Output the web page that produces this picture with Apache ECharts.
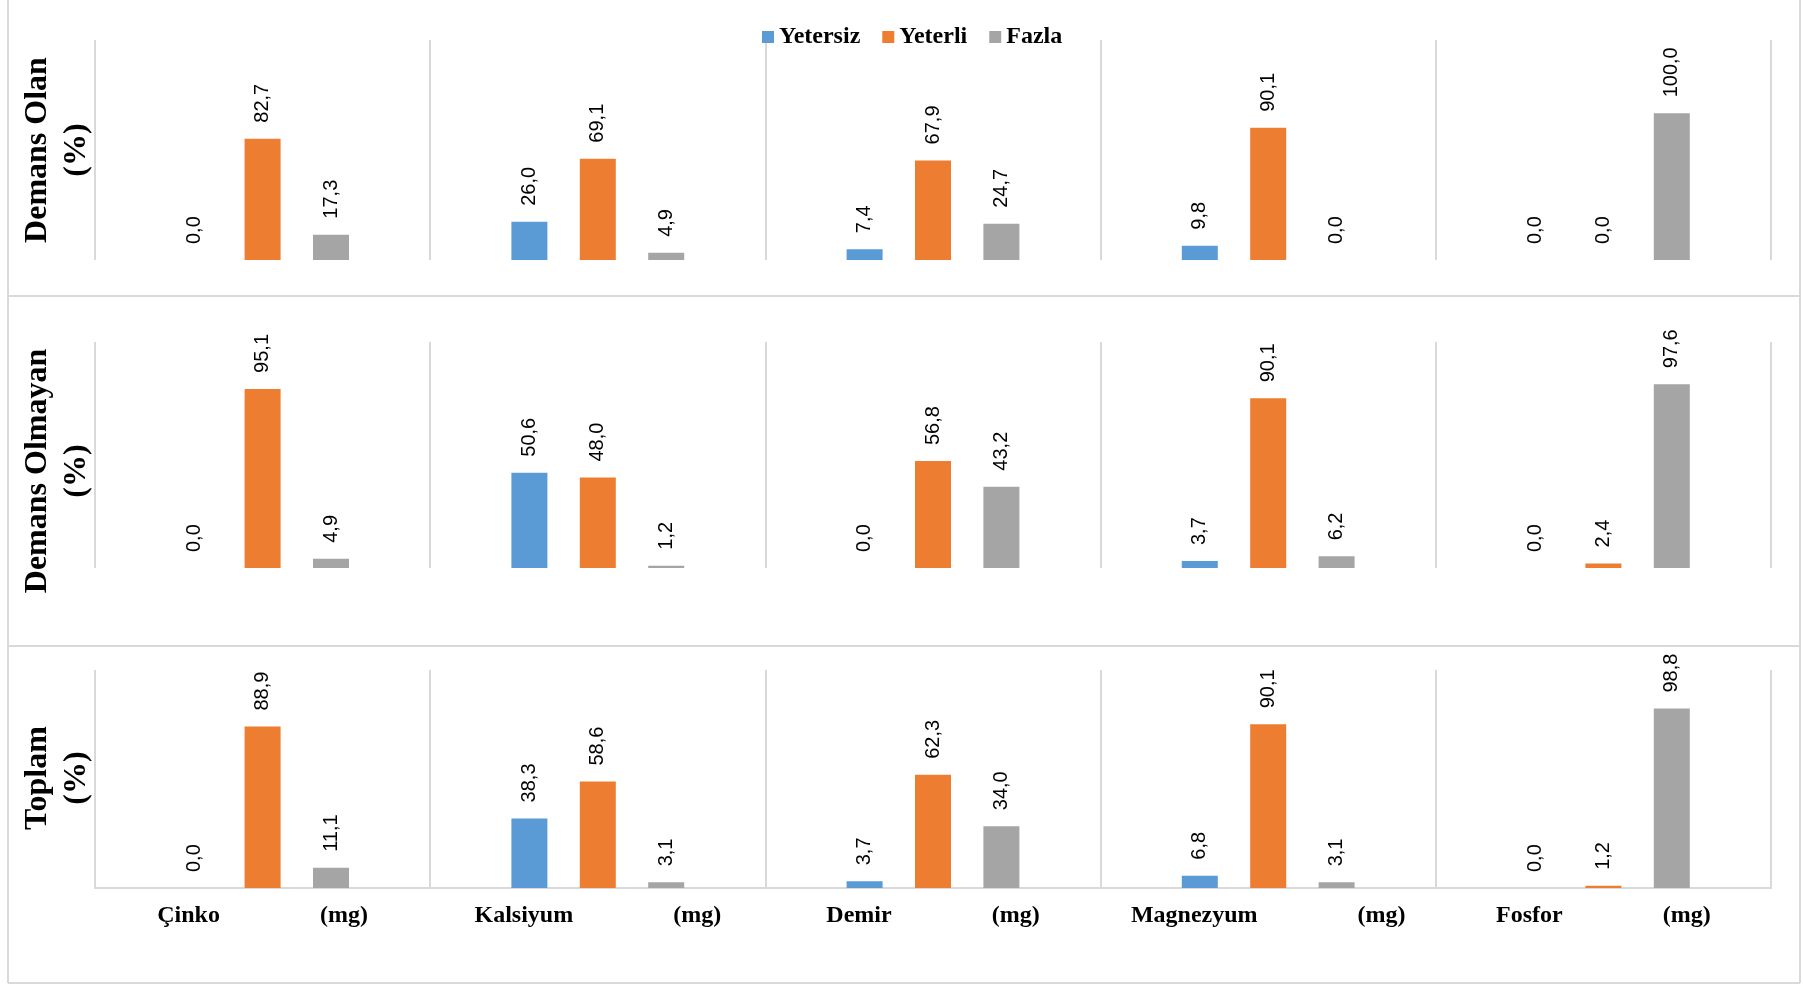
<!DOCTYPE html>
<html>
<head>
<meta charset="utf-8">
<script src="https://cdn.jsdelivr.net/npm/echarts@6/dist/echarts.min.js"></script>
<style>
html,body{margin:0;padding:0;background:#fff;}
#chart{width:1803px;height:984px;}
</style>
</head>
<body>
<div id="chart"></div>
<script>
// ---- data ----
const categories = ['Çinko', 'Kalsiyum', 'Demir', 'Magnezyum', 'Fosfor'];
const unitLabel = '(mg)';
const seriesNames = ['Yetersiz', 'Yeterli', 'Fazla'];
const panelTitles = ['Demans Olan', 'Demans Olmayan', 'Toplam'];
const panelUnit = '(%)';

const demansOlanYetersiz = [0.0, 26.0, 7.4, 9.8, 0.0];
const demansOlanYeterli  = [82.7, 69.1, 67.9, 90.1, 0.0];
const demansOlanFazla    = [17.3, 4.9, 24.7, 0.0, 100.0];

const demansOlmayanYetersiz = [0.0, 50.6, 0.0, 3.7, 0.0];
const demansOlmayanYeterli  = [95.1, 48.0, 56.8, 90.1, 2.4];
const demansOlmayanFazla    = [4.9, 1.2, 43.2, 6.2, 97.6];

const toplamYetersiz = [0.0, 38.3, 3.7, 6.8, 0.0];
const toplamYeterli  = [88.9, 58.6, 62.3, 90.1, 1.2];
const toplamFazla    = [11.1, 3.1, 34.0, 3.1, 98.8];

const axisMax = [150, 120, 120];

// ---- layout / style ----
const colors = ['#5B9BD5', '#ED7D31', '#A5A5A5'];
const gridBoxes = [
  {top: 40, height: 220},
  {top: 342, height: 226},
  {top: 670, height: 218}
];
const titleCenters = [150, 471, 778];
const panelData = [
  [demansOlanYetersiz, demansOlanYeterli, demansOlanFazla],
  [demansOlmayanYetersiz, demansOlmayanYeterli, demansOlmayanFazla],
  [toplamYetersiz, toplamYeterli, toplamFazla]
];
const serif = '"Liberation Serif", "Times New Roman", serif';
const sans = '"Liberation Sans", Arial, sans-serif';
const lineColor = '#D9D9D9';

const grids = [], xAxes = [], yAxes = [], series = [];
gridBoxes.forEach((g, i) => {
  grids.push({left: 95, right: 32, top: g.top, height: g.height, containLabel: false});
  const last = i === gridBoxes.length - 1;
  xAxes.push({
    type: 'category', gridIndex: i, data: categories,
    axisTick: {show: false},
    axisLine: {show: last, lineStyle: {color: lineColor, width: 2}},
    splitLine: {show: true, lineStyle: {color: lineColor, width: 2}},
    axisLabel: {
      show: last, margin: 16, interval: 0,
      formatter: v => '{w|' + v + '}{s| }{w|' + unitLabel + '}',
      rich: {
        w: {fontFamily: serif, fontWeight: 'bold', fontSize: 24, color: '#000'},
        s: {width: 100, fontSize: 24}
      }
    }
  });
  yAxes.push({
    type: 'value', gridIndex: i, min: 0, max: axisMax[i],
    axisLine: {show: false}, axisTick: {show: false},
    axisLabel: {show: false}, splitLine: {show: false}
  });
  seriesNames.forEach((name, k) => {
    series.push({
      type: 'bar', name: name, xAxisIndex: i, yAxisIndex: i,
      data: panelData[i][k],
      barWidth: 36, barGap: '90%',
      itemStyle: {color: colors[k]},
      label: {
        show: true, position: 'top', rotate: 90, align: 'left', verticalAlign: 'middle',
        distance: 16, fontFamily: sans, fontSize: 20, color: '#000',
        formatter: p => p.value.toFixed(1).replace('.', ',')
      }
    });
  });
});

const graphics = [];
panelTitles.forEach((t, i) => {
  graphics.push({
    type: 'text', x: 57, y: titleCenters[i], rotation: Math.PI / 2,
    style: {
      text: t + '\n' + panelUnit, fontFamily: serif, fontWeight: 'bold', fontSize: 32,
      lineHeight: 39, align: 'center', verticalAlign: 'middle', fill: '#000'
    }
  });
});
// frame lines
[[8, 0, 8, 983], [1800, 0, 1800, 983], [8, 296, 1800, 296], [8, 646, 1800, 646], [8, 983, 1800, 983]].forEach(l => {
  graphics.push({type: 'line', shape: {x1: l[0], y1: l[1], x2: l[2], y2: l[3]}, style: {stroke: lineColor, lineWidth: 2}, silent: true});
});

const chart = echarts.init(document.getElementById('chart'), null, {renderer: 'canvas'});
chart.setOption({
  backgroundColor: '#fff',
  animation: false,
  color: colors,
  legend: {
    data: seriesNames, top: 20, left: 757, icon: 'rect',
    itemWidth: 12, itemHeight: 12, itemGap: 22,
    textStyle: {fontFamily: serif, fontWeight: 'bold', fontSize: 24, color: '#000'}
  },
  grid: grids, xAxis: xAxes, yAxis: yAxes, series: series,
  graphic: graphics
});
</script>
</body>
</html>
